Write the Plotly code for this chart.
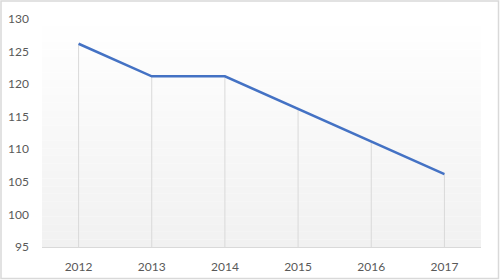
import plotly.graph_objects as go

years = ["2012", "2013", "2014", "2015", "2016", "2017"]
values = [126.2, 121.2, 121.2, 116.2, 111.2, 106.2]
y_ticks = [95, 100, 105, 110, 115, 120, 125, 130]

W, H = 500, 280
ML, MR, MT, MB = 42, 19, 19, 33
PW, PH = W - ML - MR, H - MT - MB

fig = go.Figure()

# drop lines from each point to the axis
dx, dy = [], []
for yr, v in zip(years, values):
    dx += [yr, yr, None]
    dy += [y_ticks[0], v, None]
fig.add_trace(go.Scatter(x=dx, y=dy, mode="lines",
                         line=dict(color="#d9d9d9", width=1),
                         hoverinfo="skip", showlegend=False))

fig.add_trace(go.Scatter(x=years, y=values, mode="lines",
                         line=dict(color="#4472C4", width=2.5),
                         showlegend=False))

shapes = []
# gradient plot background
n = 30
for i in range(n):
    t = (i + 0.5) / n  # 0 top -> 1 bottom
    c = int(round(255 - 14 * t))
    shapes.append(dict(type="rect", xref="paper", yref="paper",
                       x0=0, x1=1, y0=1 - (i + 1) / n, y1=1 - i / n,
                       fillcolor=f"rgb({c},{c},{c})", line=dict(width=0),
                       layer="below"))
# outer border
shapes.append(dict(type="rect", xref="paper", yref="paper",
                   x0=(-ML + 1) / PW, x1=(PW + MR - 1.5) / PW,
                   y0=(-MB + 1.5) / PH, y1=(PH + MT - 1) / PH,
                   line=dict(color="#d9d9d9", width=1.5), layer="above"))

fig.update_layout(
    width=W, height=H,
    margin=dict(l=ML, r=MR, t=MT, b=MB),
    paper_bgcolor="white", plot_bgcolor="rgba(0,0,0,0)",
    font=dict(family="Lato, Open Sans, sans-serif", size=12, color="#595959"),
    shapes=shapes,
    xaxis=dict(type="category", categoryorder="array", categoryarray=years,
               range=[-0.5, len(years) - 0.5], showgrid=False, automargin=False,
               showline=True, linecolor="#d9d9d9", linewidth=1,
               ticks="", tickfont=dict(size=12, color="#595959"), ticklabelstandoff=9),
    yaxis=dict(range=[95, 130], tickvals=y_ticks, showgrid=False, automargin=False,
               zeroline=False, showline=False, ticks="",
               tickfont=dict(size=12, color="#595959"), ticklabelstandoff=12),
)

fig.write_html("out.html")
